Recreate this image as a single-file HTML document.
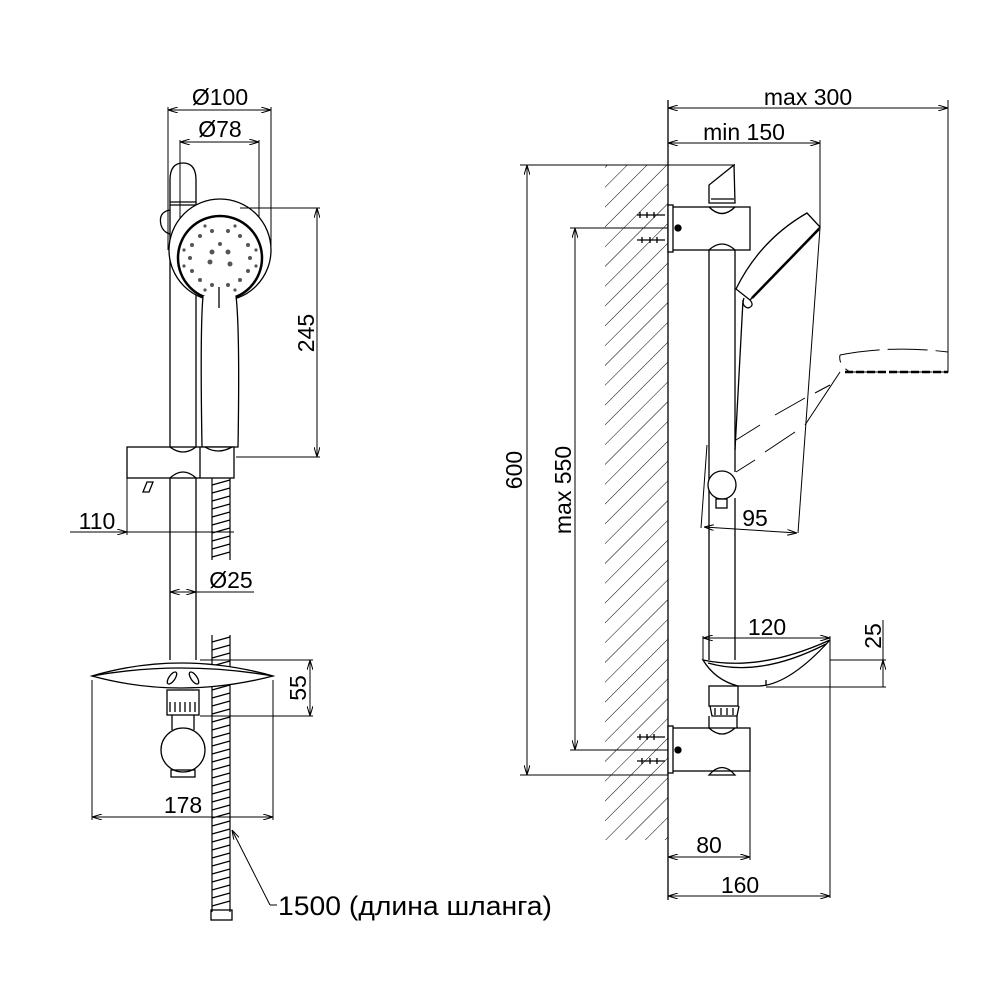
<!DOCTYPE html>
<html><head><meta charset="utf-8"><style>
html,body{margin:0;padding:0;background:#fff;}
svg{display:block}
text{font-family:"Liberation Sans",sans-serif;fill:#000}
</style></head><body>
<svg width="1000" height="1000" viewBox="0 0 1000 1000" xmlns="http://www.w3.org/2000/svg">
<defs>
<marker id="a" viewBox="0 0 10 6" refX="10" refY="3" markerWidth="10" markerHeight="6" orient="auto-start-reverse" markerUnits="userSpaceOnUse"><path d="M0,0 L10,3 L0,6" fill="none" stroke="#000" stroke-width="1"/></marker>
<pattern id="h" width="14" height="14" patternUnits="userSpaceOnUse" patternTransform="rotate(45)"><line x1="0" y1="0" x2="0" y2="14" stroke="#000" stroke-width="1"/></pattern>
</defs>
<g fill="none" stroke="#000" stroke-width="1.3">
<line x1="168" y1="107" x2="168" y2="250" stroke-width="1"/>
<line x1="271" y1="107" x2="271" y2="250" stroke-width="1"/>
<line x1="168" y1="110" x2="271" y2="110" stroke-width="1" marker-start="url(#a)" marker-end="url(#a)"/>
<line x1="180" y1="140" x2="180" y2="250" stroke-width="1"/>
<line x1="259" y1="140" x2="259" y2="250" stroke-width="1"/>
<line x1="180" y1="142" x2="259" y2="142" stroke-width="1" marker-start="url(#a)" marker-end="url(#a)"/>
<path d="M170,205 L170,180 Q170,163 183,163 Q196,163 196,180 L196,205 Z"/>
<line x1="170" y1="202" x2="196" y2="202"/>
<path d="M170,210 Q158,212 161,225 Q163,232 170,234"/>
<line x1="170" y1="205" x2="170" y2="447"/>
<line x1="196" y1="205" x2="196" y2="447"/>
<line x1="170" y1="478" x2="170" y2="660"/>
<line x1="196" y1="478" x2="196" y2="660"/>
<circle cx="220" cy="250" r="51" fill="#fff"/>
<circle cx="220" cy="258" r="42" stroke-width="2.5"/>
<path d="M203,296 Q200,330 202,447 L238,447 Q240,330 236,296" fill="#fff"/>
<line x1="219" y1="287" x2="219" y2="308"/>
<g fill="#555" stroke="none">
<circle cx="192" cy="245" r="2"/><circle cx="200" cy="236" r="2"/><circle cx="212" cy="231" r="2"/><circle cx="228" cy="231" r="2"/><circle cx="240" cy="236" r="2"/><circle cx="248" cy="245" r="2"/><circle cx="250" cy="258" r="2"/><circle cx="248" cy="271" r="2"/><circle cx="240" cy="280" r="2"/><circle cx="228" cy="285" r="2"/><circle cx="212" cy="285" r="2"/><circle cx="200" cy="280" r="2"/><circle cx="192" cy="271" r="2"/><circle cx="190" cy="258" r="2"/>
<circle cx="184" cy="250" r="1.6"/><circle cx="184" cy="266" r="1.6"/><circle cx="256" cy="250" r="1.6"/><circle cx="256" cy="266" r="1.6"/><circle cx="205" cy="226" r="1.6"/><circle cx="235" cy="226" r="1.6"/><circle cx="205" cy="290" r="1.6"/><circle cx="235" cy="290" r="1.6"/>
<circle cx="212" cy="252" r="2.5"/><circle cx="228" cy="252" r="2.5"/><circle cx="210" cy="262" r="2.5"/><circle cx="230" cy="264" r="2.5"/><circle cx="220" cy="244" r="2"/>
</g>
<rect x="127" y="447" width="107" height="31" fill="#fff"/>
<line x1="200" y1="447" x2="200" y2="478"/>
<path d="M170,447 Q183,457 196,447"/><path d="M170,478 Q183,466 196,478"/>
<path d="M205,447 Q218,455 232,447"/>
<path d="M143,492 L147,482 L153,482 L149,492 Z"/>
<g stroke-width="1.2">
<line x1="212" y1="478" x2="212" y2="560"/><line x1="230" y1="478" x2="230" y2="560"/>
<path d="M212,485 L230,480 M212,493 L230,488 M212,501 L230,496 M212,509 L230,504 M212,517 L230,512 M212,525 L230,520 M212,533 L230,528 M212,541 L230,536 M212,549 L230,544 M212,557 L230,552"/>
<line x1="212" y1="635" x2="212" y2="912"/><line x1="230" y1="635" x2="230" y2="912"/>
<path d="M212,642 L230,637 M212,650 L230,645 M212,658 L230,653 M212,666 L230,661 M212,690 L230,685 M212,698 L230,693 M212,706 L230,701 M212,714 L230,709 M212,722 L230,717 M212,730 L230,725 M212,738 L230,733 M212,746 L230,741 M212,754 L230,749 M212,762 L230,757 M212,770 L230,765 M212,778 L230,773 M212,786 L230,781 M212,794 L230,789 M212,802 L230,797 M212,810 L230,805 M212,818 L230,813 M212,826 L230,821 M212,834 L230,829 M212,842 L230,837 M212,850 L230,845 M212,858 L230,853 M212,866 L230,861 M212,874 L230,869 M212,882 L230,877 M212,890 L230,885 M212,898 L230,893 M212,906 L230,901"/>
</g>
<rect x="211" y="910" width="21" height="10"/>
<line x1="240" y1="208" x2="320" y2="208" stroke-width="1"/>
<line x1="236" y1="457" x2="320" y2="457" stroke-width="1"/>
<line x1="317" y1="208" x2="317" y2="457" stroke-width="1" marker-start="url(#a)" marker-end="url(#a)"/>
<line x1="127" y1="478" x2="127" y2="535" stroke-width="1"/>
<line x1="70" y1="532" x2="127" y2="532" stroke-width="1" marker-end="url(#a)"/>
<line x1="127" y1="532" x2="234" y2="532" stroke-width="1"/>
<line x1="170" y1="592" x2="254" y2="592" stroke-width="1"/>
<line x1="170" y1="592" x2="183" y2="592" stroke-width="1" marker-start="url(#a)"/>
<line x1="183" y1="592" x2="196" y2="592" stroke-width="1" marker-end="url(#a)"/>
<path d="M92,676 Q180,650 273,676 Q180,700 92,676 Z" fill="#fff"/>
<path d="M92,676 Q180,660 273,676"/>
<ellipse cx="172" cy="678" rx="3" ry="7" transform="rotate(35 172 678)"/>
<ellipse cx="194" cy="678" rx="3" ry="7" transform="rotate(-35 194 678)"/>
<rect x="167" y="690" width="32" height="25"/>
<path d="M170,702 v10 M175,702 v10 M180,702 v10 M185,702 v10 M190,702 v10 M195,702 v10"/>
<line x1="172" y1="715" x2="172" y2="730"/><line x1="194" y1="715" x2="194" y2="730"/>
<circle cx="183" cy="750" r="22" fill="#fff"/>
<rect x="171" y="770" width="24" height="7"/>
<line x1="200" y1="660" x2="313" y2="660" stroke-width="1"/>
<line x1="200" y1="716" x2="313" y2="716" stroke-width="1"/>
<line x1="310" y1="660" x2="310" y2="716" stroke-width="1" marker-start="url(#a)" marker-end="url(#a)"/>
<line x1="92" y1="680" x2="92" y2="820" stroke-width="1"/>
<line x1="273" y1="680" x2="273" y2="820" stroke-width="1"/>
<line x1="92" y1="817" x2="273" y2="817" stroke-width="1" marker-start="url(#a)" marker-end="url(#a)"/>
<polyline points="270,905 277,905" stroke-width="1"/>
<line x1="270" y1="905" x2="232" y2="830" stroke-width="1" marker-end="url(#a)"/>

<rect x="605" y="165" width="63" height="675" fill="url(#h)" stroke="none"/>
<rect x="600" y="160" width="5" height="690" fill="#fff" stroke="none"/>
<line x1="668" y1="100" x2="668" y2="900"/>
<line x1="668" y1="108" x2="948" y2="108" stroke-width="1" marker-start="url(#a)" marker-end="url(#a)"/>
<line x1="948" y1="100" x2="948" y2="372" stroke-width="1"/>
<line x1="668" y1="143" x2="820" y2="143" stroke-width="1" marker-start="url(#a)" marker-end="url(#a)"/>
<line x1="820" y1="140" x2="820" y2="228" stroke-width="1"/>
<line x1="520" y1="165" x2="735" y2="165" stroke-width="1"/>
<line x1="520" y1="775" x2="668" y2="775" stroke-width="1"/>
<line x1="527" y1="165" x2="527" y2="775" stroke-width="1" marker-start="url(#a)" marker-end="url(#a)"/>
<line x1="570" y1="228" x2="668" y2="228" stroke-width="1"/>
<line x1="570" y1="750" x2="668" y2="750" stroke-width="1"/>
<line x1="575" y1="228" x2="575" y2="750" stroke-width="1" marker-start="url(#a)" marker-end="url(#a)"/>
<path d="M709,203 L709,185 L734,165 L735,203 Z" fill="#fff"/>
<line x1="711" y1="199" x2="734" y2="199"/>
<rect x="672" y="207" width="78" height="43" fill="#fff"/>
<rect x="668" y="205" width="5" height="47" fill="#fff"/>
<path d="M709,207 Q722,220 735,207"/><path d="M709,250 Q722,238 735,250"/>
<circle cx="678" cy="228" r="3" fill="#000"/>
<path d="M637,215 h28 M640,212 v6 M647,212 v6 M654,212 v6 M637,240 h28 M642,237 v6 M650,237 v6 M657,237 v6"/>
<line x1="709" y1="250" x2="709" y2="660"/>
<line x1="735" y1="250" x2="735" y2="472"/>
<line x1="735" y1="498" x2="735" y2="660"/>
<circle cx="722" cy="485" r="14" fill="#fff"/>
<rect x="716" y="499" width="11" height="9"/>
<path d="M736,289 Q760,240 807,213 L820,227 L750,300 Z" fill="#fff"/>
<path d="M752,298 L819,229" stroke-width="2.5"/>
<path d="M750,300 Q755,306 748,308 Q741,306 744,298"/>
<line x1="743" y1="300" x2="735" y2="450"/>
<line x1="820" y1="228" x2="798" y2="533" stroke-width="1"/>
<path d="M840,355 Q890,345 948,352 L948,372 L850,372 Q838,365 840,355" stroke-width="1" stroke-dasharray="40 8"/>
<path d="M845,372 L948,372" stroke-width="2.5" stroke-dasharray="8 3"/>
<path d="M736,440 L760,425 M775,415 L805,398 M815,393 L830,385" stroke-width="1"/>
<path d="M736,472 L755,460 M765,452 L795,432 M805,425 L840,372" stroke-width="1"/>
<line x1="707" y1="445" x2="701" y2="528" stroke-width="1"/>
<line x1="704" y1="527" x2="797" y2="533" stroke-width="1" marker-start="url(#a)" marker-end="url(#a)"/>
<path d="M703,660 Q760,672 830,640 Q790,684 760,686 L738,686 Q715,680 703,660 Z" fill="#fff"/>
<path d="M708,663 Q760,678 826,644"/>
<line x1="766" y1="680" x2="766" y2="686"/>
<rect x="709" y="686" width="29" height="20"/>
<path d="M710,706 L712,716 L737,716 L739,706 M715,708 v7 M721,708 v7 M727,708 v7 M733,708 v7"/>
<line x1="709" y1="716" x2="709" y2="728"/><line x1="737" y1="716" x2="737" y2="728"/>
<rect x="672" y="728" width="78" height="43" fill="#fff"/>
<rect x="668" y="726" width="5" height="47" fill="#fff"/>
<path d="M709,728 Q722,740 735,728"/><path d="M709,775 Q722,760 735,775 Z"/>
<circle cx="678" cy="750" r="3" fill="#000"/>
<path d="M637,737 h28 M640,734 v6 M647,734 v6 M654,734 v6 M637,761 h28 M642,758 v6 M650,758 v6 M657,758 v6"/>
<line x1="703" y1="636" x2="703" y2="660" stroke-width="1"/>
<line x1="703" y1="638" x2="830" y2="638" stroke-width="1" marker-start="url(#a)" marker-end="url(#a)"/>
<line x1="830" y1="636" x2="830" y2="898" stroke-width="1"/>
<line x1="830" y1="660" x2="886" y2="660" stroke-width="1"/>
<line x1="766" y1="687" x2="886" y2="687" stroke-width="1"/>
<line x1="883" y1="620" x2="883" y2="660" stroke-width="1"/>
<line x1="883" y1="687" x2="883" y2="660" stroke-width="1" marker-end="url(#a)"/>
<line x1="750" y1="771" x2="750" y2="860" stroke-width="1"/>
<line x1="668" y1="857" x2="750" y2="857" stroke-width="1" marker-start="url(#a)" marker-end="url(#a)"/>
<line x1="668" y1="896" x2="830" y2="896" stroke-width="1" marker-start="url(#a)" marker-end="url(#a)"/>
</g>
<g font-size="23">
<text x="220" y="105" text-anchor="middle">Ø100</text>
<text x="220" y="137" text-anchor="middle">Ø78</text>
<text x="314" y="333" text-anchor="middle" transform="rotate(-90 314 333)">245</text>
<text x="97" y="529" text-anchor="middle">110</text>
<text x="231" y="588" text-anchor="middle">Ø25</text>
<text x="306" y="688" text-anchor="middle" transform="rotate(-90 306 688)">55</text>
<text x="183" y="813" text-anchor="middle">178</text>
<text x="278" y="915" font-size="27" textLength="274" lengthAdjust="spacingAndGlyphs">1500 (длина шланга)</text>
<text x="808" y="105" text-anchor="middle">max 300</text>
<text x="744" y="140" text-anchor="middle">min 150</text>
<text x="522" y="470" text-anchor="middle" transform="rotate(-90 522 470)">600</text>
<text x="571" y="490" text-anchor="middle" transform="rotate(-90 571 490)">max 550</text>
<text x="755" y="526" text-anchor="middle">95</text>
<text x="767" y="635" text-anchor="middle">120</text>
<text x="881" y="636" text-anchor="middle" transform="rotate(-90 881 636)">25</text>
<text x="709" y="853" text-anchor="middle">80</text>
<text x="740" y="893" text-anchor="middle">160</text>
</g>
</svg>
</body></html>
